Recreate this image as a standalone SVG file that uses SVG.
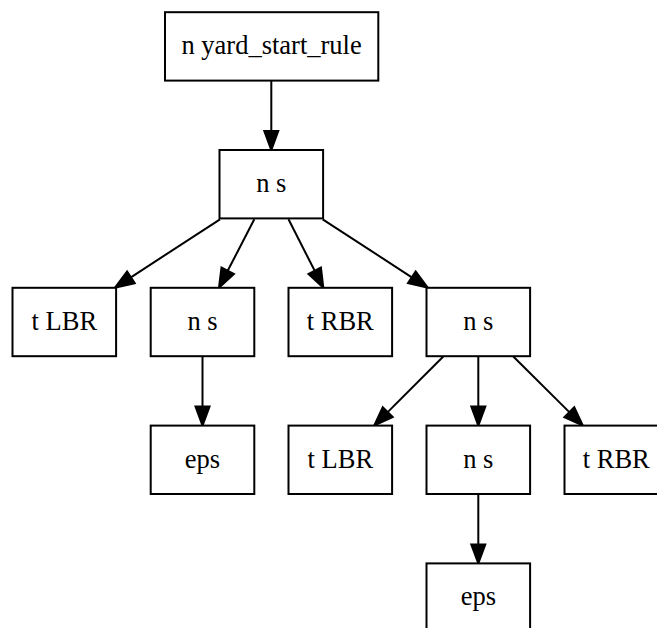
<svg xmlns="http://www.w3.org/2000/svg" width="657" height="628" viewBox="0 0 657 628">
<style>
.node rect{fill:#ffffff;stroke:#000000;stroke-width:2}
.node text{font-family:"Liberation Serif","Times New Roman",serif;font-size:26.5px;fill:#000000;text-anchor:middle}
.edges path{fill:none;stroke:#000000;stroke-width:2;marker-end:url(#arr)}
</style>
<defs>
<marker id="arr" markerUnits="userSpaceOnUse" markerWidth="24" markerHeight="18" viewBox="-2 -2 24 18" refX="0" refY="7" orient="auto" overflow="visible">
<path d="M0,0 L19,7 L0,14 Z" fill="#000000" stroke="#000000" stroke-width="2"/>
</marker>
</defs>
<rect x="0" y="0" width="657" height="628" fill="#ffffff"/>
<g class="edges" id="edges">
<path d="M271.3,80.6 L271.3,131"/>
<path d="M220,219.3 L130.9,277.3"/>
<path d="M254.3,219.3 L227.7,270.8"/>
<path d="M288.5,219.3 L314.7,270.8"/>
<path d="M322.7,219.3 L411.8,277.3"/>
<path d="M202.5,356.2 L202.5,406.6"/>
<path d="M443.3,356.5 L387.7,412.1"/>
<path d="M478.3,356.2 L478.3,406.6"/>
<path d="M513.3,356.5 L569.3,412.1"/>
<path d="M478.3,494 L478.3,544.4"/>
</g>
<g class="node" id="n0"><rect x="165" y="12.2" width="213.3" height="68.4"/><text x="271.6" y="54">n yard_start_rule</text></g>
<g class="node" id="n1"><rect x="219.5" y="150" width="103.6" height="68.4"/><text x="271.3" y="192">n s</text></g>
<g class="node" id="n2"><rect x="12.5" y="287.8" width="103.6" height="68.4"/><text x="64.3" y="329.8">t LBR</text></g>
<g class="node" id="n3"><rect x="150.7" y="287.8" width="103.6" height="68.4"/><text x="202.5" y="329.8">n s</text></g>
<g class="node" id="n4"><rect x="288.5" y="287.8" width="103.6" height="68.4"/><text x="340.3" y="329.8">t RBR</text></g>
<g class="node" id="n5"><rect x="426.5" y="287.8" width="103.6" height="68.4"/><text x="478.3" y="329.8">n s</text></g>
<g class="node" id="n6"><rect x="150.7" y="425.6" width="103.6" height="68.4"/><text x="202.5" y="467.6">eps</text></g>
<g class="node" id="n7"><rect x="288.5" y="425.6" width="103.6" height="68.4"/><text x="340.3" y="467.6">t LBR</text></g>
<g class="node" id="n8"><rect x="426.5" y="425.6" width="103.6" height="68.4"/><text x="478.3" y="467.6">n s</text></g>
<g class="node" id="n9"><rect x="564.5" y="425.6" width="103.6" height="68.4"/><text x="616.3" y="467.6">t RBR</text></g>
<g class="node" id="n10"><rect x="426.5" y="563.4" width="103.6" height="68.4"/><text x="478.3" y="605.4">eps</text></g>
</svg>
